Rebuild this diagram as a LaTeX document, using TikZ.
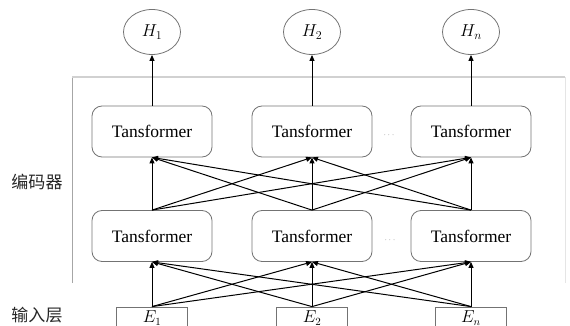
\documentclass[tikz,border=0pt]{standalone}
\usepackage{fontspec}
\setmainfont{Liberation Serif}
\newfontfamily\cjk{Noto Sans CJK SC}
\usetikzlibrary{arrows.meta,shapes.geometric}
\begin{document}
\begin{tikzpicture}[x=1pt,y=-1pt,
  hid/.style={ellipse,draw=black!55,line width=0.8pt,minimum width=57pt,minimum height=45pt,inner sep=0pt,font=\fontsize{17}{19}\selectfont},
  enc/.style={draw=black!55,line width=0.8pt,rounded corners=10pt,minimum width=120pt,minimum height=51pt,font=\fontsize{17.5}{19}\selectfont},
  inp/.style={draw=black!55,line width=0.8pt,minimum width=71pt,minimum height=22pt,inner sep=0pt,font=\fontsize{16}{17}\selectfont},
  arr/.style={-{Triangle[length=6pt,width=5pt]},line width=1pt},
  dots/.style={text=black!45,font=\small},
  lab/.style={text=black!85,font=\cjk\fontsize{17}{19}\selectfont}]
 \path[use as bounding box] (0,0) rectangle (570,326);
 \clip (0,0) rectangle (570,326);
 % encoder frame
 \draw[black!35] (72,283) -- (72,77);
 \draw[black!18,line width=1.5pt] (72,77) -- (565,77);
 \draw[black!10] (565,77) -- (565,283);
 \foreach \i/\x/\s in {1/152/1,2/312/2,3/471/n}{
   \node[hid] (h\i) at (\x,32) {$H_{\s}$};
   \node[enc] (u\i) at (\x,131.5) {Tansformer};
   \node[enc] (l\i) at (\x,236) {Tansformer};
   \node[inp] (e\i) at (\x,318) {$E_{\s}$};
   \draw[arr] (u\i) -- (h\i);
 }
 \foreach \i in {1,2,3}{
   \foreach \j in {1,2,3}{
     \draw[arr] (l\i.north) -- (u\j.south);
     \draw[arr] (e\i.north) -- (l\j.south);
   }
 }
 \node[dots] (d1) at (389,135) {$\cdots$};
 \node[dots] (d2) at (390,240) {$\cdots$};
 \node[lab] (enclab) at (37,182) {编码器};
 \node[lab] (inlab) at (37,315) {输入层};
\end{tikzpicture}
\end{document}
